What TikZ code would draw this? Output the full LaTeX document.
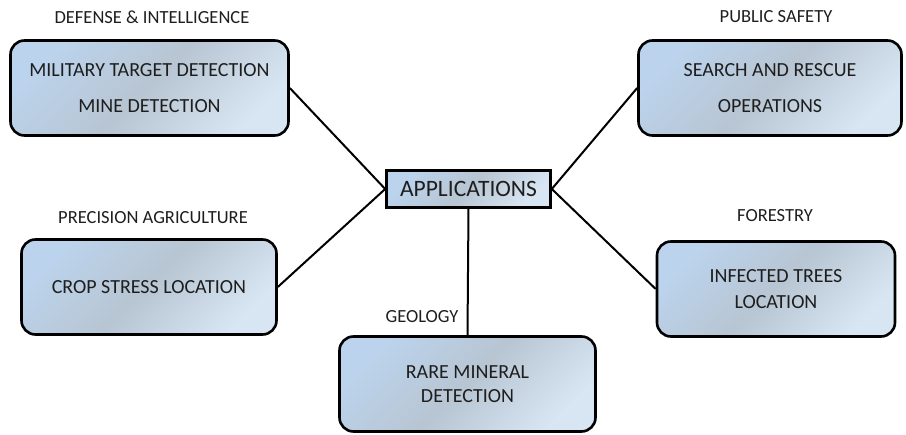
\documentclass[tikz,border=0pt]{standalone}
\usepackage{fontspec}
\setmainfont{Carlito}
\definecolor{txt}{HTML}{1E1E1E}
\definecolor{ctl}{HTML}{BBD3EC}
\definecolor{cmid}{HTML}{B8C5D2}
\definecolor{cbr}{HTML}{D8E5F2}
\tikzset{
  appbox/.style={draw=black, line width=2.6pt, rounded corners=14pt, shade, shading=axis,
     left color=ctl, right color=cbr, middle color=cmid, shading angle=45,
     text=txt, align=center, font=\fontsize{20}{26}\selectfont, inner sep=0pt},
  hubbox/.style={draw=black, line width=2.6pt, shade, shading=axis,
     left color=ctl, right color=cbr, middle color=cmid, shading angle=45,
     text=txt, font=\fontsize{23.5}{25}\selectfont, inner sep=0pt,
     minimum width=164pt, minimum height=37pt},
  cat/.style={text=txt, font=\fontsize{18.5}{20}\selectfont, inner sep=0pt},
  link/.style={draw=black, line width=2pt}
}
\begin{document}
\begin{tikzpicture}[x=1pt,y=-1pt]
\useasboundingbox (0,0) rectangle (906,435);
\node[hubbox] (hub) at (468.5,189) {APPLICATIONS};
\node[appbox, minimum width=278pt, minimum height=95pt, font=\fontsize{20}{36}\selectfont] (def) at (149.5,88) {MILITARY TARGET DETECTION\\MINE DETECTION};
\node[appbox, minimum width=263pt, minimum height=95pt, font=\fontsize{20}{36}\selectfont] (pub) at (770,88) {SEARCH AND RESCUE\\OPERATIONS};
\node[appbox, minimum width=255pt, minimum height=95pt] (crop) at (149,287) {CROP STRESS LOCATION};
\node[appbox, minimum width=238pt, minimum height=95pt] (for) at (776,289) {INFECTED TREES\\LOCATION};
\node[appbox, minimum width=256pt, minimum height=95pt, font=\fontsize{20}{23.5}\selectfont] (geo) at (467.5,384) {RARE MINERAL\\DETECTION};
\node[cat] (ldef) at (152,17) {DEFENSE \& INTELLIGENCE};
\node[cat] (lpub) at (776,17) {PUBLIC SAFETY};
\node[cat] (lcrop) at (153,218) {PRECISION AGRICULTURE};
\node[cat] (lfor) at (775,216) {FORESTRY};
\node[cat] (lgeo) at (422,317) {GEOLOGY};
\draw[link] (def.east) -- (hub.west);
\draw[link] (crop.east) -- (hub.west);
\draw[link] (pub.west) -- (hub.east);
\draw[link] (for.west) -- (hub.east);
\draw[link] (hub.south) -- (geo.north);
\end{tikzpicture}
\end{document}
